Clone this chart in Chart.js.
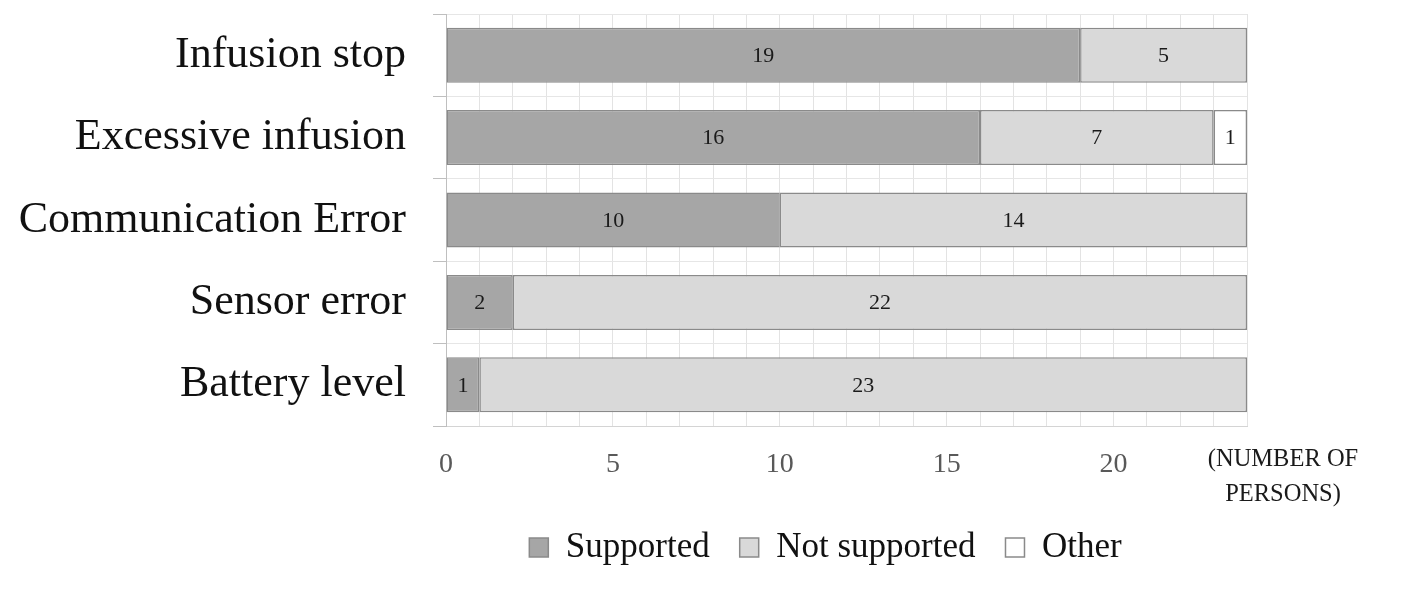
<!DOCTYPE html>
<html>
<head>
<meta charset="utf-8">
<script src="https://cdn.jsdelivr.net/npm/chart.js@4.4.1/dist/chart.umd.min.js"></script>
<style>
    html, body { margin: 0; padding: 0; background: #fff; }
    #wrap { width: 1402px; height: 614px; }
</style>
</head>
<body>
<div id="wrap"><canvas id="chart" width="1402" height="614"></canvas></div>
<script>
// data
const categories = ["Infusion stop", "Excessive infusion", "Communication Error", "Sensor error", "Battery level"];
const supported = [19, 16, 10, 2, 1];
const notSupported = [5, 7, 14, 22, 23];
const other = [0, 1, 0, 0, 0];
const xTickLabels = [0, 5, 10, 15, 20];
const xMax = 24;
const axisTitleLines = ["(NUMBER OF", "PERSONS)"];

const serif = "'Liberation Serif', 'DejaVu Serif', serif";

// numbers inside each bar segment
const segmentLabels = {
    id: 'segmentLabels',
    afterDatasetsDraw(chart) {
        const ctx = chart.ctx;
        ctx.save();
        ctx.font = "22px " + serif;
        ctx.fillStyle = "#1a1a1a";
        ctx.textAlign = "center";
        ctx.textBaseline = "middle";
        chart.data.datasets.forEach((ds, i) => {
            const meta = chart.getDatasetMeta(i);
            meta.data.forEach((bar, j) => {
                const v = ds.data[j];
                if (!v) return;
                ctx.fillText(String(v), (bar.x + bar.base) / 2, bar.y + 1);
            });
        });
        ctx.restore();
    }
};

// "(NUMBER OF PERSONS)" to the right of the x ticks
const unitTitle = {
    id: 'unitTitle',
    afterDraw(chart) {
        const ctx = chart.ctx;
        const area = chart.chartArea;
        const xs = chart.scales.x;
        ctx.save();
        ctx.font = "24.5px " + serif;
        ctx.fillStyle = "#1a1a1a";
        ctx.textAlign = "center";
        ctx.textBaseline = "middle";
        axisTitleLines.forEach((t, k) => {
            ctx.fillText(t, area.right + 36, xs.top + 34 + k * 35);
        });
        ctx.restore();
    }
};

// legend sits centred a bit right of the canvas middle, like the original
const legendShift = {
    id: 'legendShift',
    afterLayout(chart) {
        const lg = chart.legend;
        if (!lg) return;
        lg.left = chart.chartArea.left - 42;
        lg.right = chart.chartArea.right;
    }
};

const ctx = document.getElementById('chart').getContext('2d');
new Chart(ctx, {
    type: 'bar',
    data: {
        labels: categories,
        datasets: [
            {
                label: "Supported",
                data: supported,
                backgroundColor: "#a6a6a6",
                borderColor: "#8a8a8a",
                borderWidth: 1.5,
                borderSkipped: false
            },
            {
                label: "Not supported",
                data: notSupported,
                backgroundColor: "#d9d9d9",
                borderColor: "#8a8a8a",
                borderWidth: 1.5,
                borderSkipped: false
            },
            {
                label: "Other",
                data: other,
                backgroundColor: "#ffffff",
                borderColor: "#8a8a8a",
                borderWidth: 1.5,
                borderSkipped: false
            }
        ]
    },
    options: {
        indexAxis: 'y',
        responsive: false,
        animation: false,
        categoryPercentage: 1,
        barPercentage: 0.667,
        layout: {
            padding: { left: 0, right: 155, top: 14, bottom: 39 }
        },
        scales: {
            x: {
                stacked: true,
                min: 0,
                max: xMax,
                afterFit: (s) => { s.height = 74; s.paddingLeft = 0; s.paddingRight = 0; },
                grid: { color: "#e3e3e3", drawTicks: false },
                border: { color: "#d4d4d4" },
                ticks: {
                    stepSize: 1,
                    autoSkip: false,
                    maxRotation: 0,
                    padding: 22,
                    color: "#595959",
                    font: { family: serif, size: 28 },
                    callback: (v) => xTickLabels.includes(v) ? String(v) : ""
                }
            },
            y: {
                stacked: true,
                afterFit: (s) => { s.width = 446; s.paddingTop = 0; s.paddingBottom = 0; },
                grid: { color: "#e6e6e6", tickColor: "#bfbfbf", tickLength: 13, offset: true },
                border: { color: "#bfbfbf" },
                ticks: {
                    padding: 27,
                    color: "#111",
                    font: { family: serif, size: 44 }
                }
            }
        },
        plugins: {
            legend: {
                position: 'bottom',
                labels: {
                    boxWidth: 19,
                    boxHeight: 19,
                    padding: 30,
                    color: "#111",
                    font: { family: serif, size: 35 }
                }
            },
            tooltip: { enabled: false }
        }
    },
    plugins: [segmentLabels, unitTitle, legendShift]
});
</script>
</body>
</html>
